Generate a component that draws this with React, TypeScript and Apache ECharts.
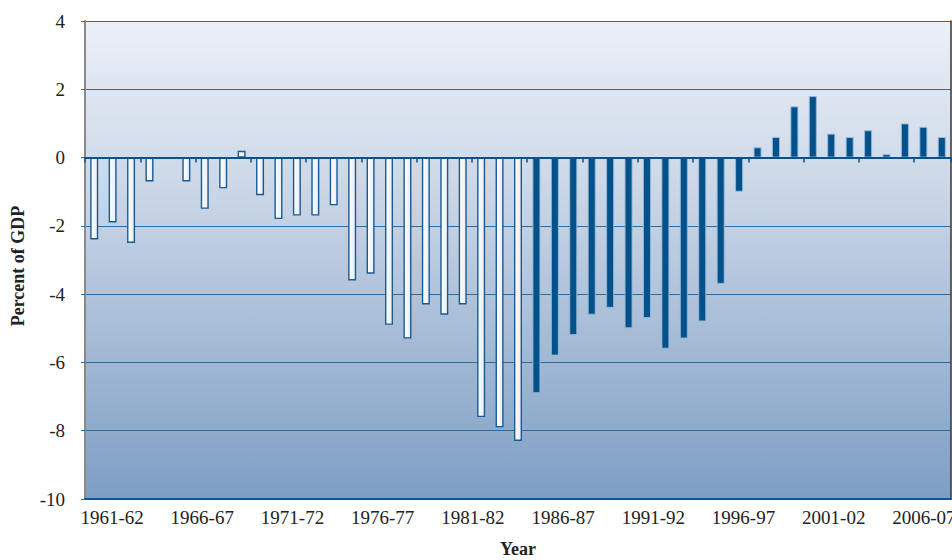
import React, { useEffect, useRef } from "react";
import * as echarts from "echarts";

// Fiscal years 1960-61 .. 2006-07 (one bar each)
const years: string[] = [
  "1960-61", "1961-62", "1962-63", "1963-64", "1964-65", "1965-66", "1966-67", "1967-68",
  "1968-69", "1969-70", "1970-71", "1971-72", "1972-73", "1973-74", "1974-75", "1975-76",
  "1976-77", "1977-78", "1978-79", "1979-80", "1980-81", "1981-82", "1982-83", "1983-84",
  "1984-85", "1985-86", "1986-87", "1987-88", "1988-89", "1989-90", "1990-91", "1991-92",
  "1992-93", "1993-94", "1994-95", "1995-96", "1996-97", "1997-98", "1998-99", "1999-00",
  "2000-01", "2001-02", "2002-03", "2003-04", "2004-05", "2005-06", "2006-07",
];

// Budget balance, percent of GDP
const balance: number[] = [
  -2.4, -1.9, -2.5, -0.7, 0, -0.7, -1.5, -0.9, 0.2, -1.1, -1.8, -1.7, -1.7, -1.4, -3.6, -3.4,
  -4.9, -5.3, -4.3, -4.6, -4.3, -7.6, -7.9, -8.3, -6.9, -5.8, -5.2, -4.6, -4.4, -5.0, -4.7, -5.6,
  -5.3, -4.8, -3.7, -1.0, 0.3, 0.6, 1.5, 1.8, 0.7, 0.6, 0.8, 0.1, 1.0, 0.9, 0.6,
];

// First year drawn with the dark fill
const darkFrom = "1984-85";

// Tick label axis (as printed in the reference)
const labelYears: string[] = [
  "1960-61", "1961-62", "1962-63", "1963-64", "1964-65", "1965-66", "1966-67", "1967-68",
  "1968-69", "1969-70", "1970-71", "1971-72", "1972-73", "1973-74", "1974-75", "1975-76",
  "1976-77", "1977-78", "1978-79", "1979-80", "1980-81", "1981-82", "1982-83", "1983-84",
  "1984-85", "1985-86", "1986-87", "1987-88", "1988-89", "1989-90", "1990-91", "1991-92",
  "1992-93", "1993-94", "1994-95", "1995-96", "1996-97", "1997-98", "1998-99", "1999-00",
  "2000-01", "2001-02", "2002-03", "2003-04", "2004-05", "2005-06", "2006-07", "2007-08",
];
const shownLabels: string[] = [
  "1961-62", "1966-67", "1971-72", "1976-77", "1981-82", "1986-87", "1991-92", "1996-97",
  "2001-02", "2006-07",
];

const FONT = "'Liberation Serif', 'DejaVu Serif', serif";
const LINE = "#2f6a9f";

export default function App() {
  const ref = useRef<HTMLDivElement>(null);
  useEffect(() => {
    if (!ref.current) return;
    const chart = echarts.init(ref.current, null, { renderer: "svg" });
    const darkIdx = years.indexOf(darkFrom);
    const data = balance.map((v, i) => ({
      value: v,
      itemStyle:
        i < darkIdx
          ? {
              color: {
                type: "linear", x: 0, y: 0, x2: 1, y2: 0,
                colorStops: [
                  { offset: 0, color: "#ffffff" },
                  { offset: 1, color: "#e6edf6" },
                ],
              },
              borderColor: "#1a5a93",
              borderWidth: v === 0 ? 0 : 1.4,
            }
          : { color: "#03518b", borderColor: "rgba(150,185,215,0.9)", borderWidth: 1 },
    }));
    chart.setOption({
      animation: false,
      textStyle: { fontFamily: FONT },
      grid: {
        left: 85,
        right: 1,
        top: 21,
        bottom: 61,
        outerBoundsMode: "none",
        containLabel: false,
        show: true,
        borderWidth: 0,
        backgroundColor: {
          type: "linear", x: 0, y: 0, x2: 0, y2: 1,
          colorStops: [
            { offset: 0, color: "#ecf0f8" },
            { offset: 0.35, color: "#cbd7e7" },
            { offset: 1, color: "#7d9ec4" },
          ],
        },
      },
      xAxis: [
        {
          type: "category",
          data: years,
          position: "bottom",
          axisLine: { onZero: true, lineStyle: { color: "#0f4f8a", width: 2 } },
          axisTick: { show: true, length: 5, lineStyle: { color: "#0f4f8a", width: 1.5 } },
          axisLabel: { show: false },
          splitLine: { show: false },
          z: 5,
        },
        {
          type: "category",
          data: labelYears,
          position: "bottom",
          axisLine: { onZero: false, lineStyle: { color: "#0d5596", width: 2 } },
          axisTick: { show: false },
          axisLabel: {
            interval: (_: number, v: string) => shownLabels.indexOf(v) >= 0,
            fontFamily: FONT,
            fontSize: 19,
            color: "#222",
            margin: 9,
          },
          name: "Year",
          nameLocation: "middle",
          nameGap: 41,
          nameTextStyle: { fontFamily: FONT, fontSize: 18, fontWeight: "bold", color: "#222" },
        },
      ],
      yAxis: [
        {
          type: "value",
          min: -10,
          max: 4,
          interval: 2,
          axisLine: { show: true, onZero: false, lineStyle: { color: "#8a8a8a", width: 2 } },
          axisTick: { show: true, length: 4, lineStyle: { color: LINE } },
          axisLabel: { fontFamily: FONT, fontSize: 19, color: "#222", margin: 20 },
          splitLine: { show: true, lineStyle: { color: LINE, width: 1.2 } },
          name: "Percent of GDP",
          nameLocation: "middle",
          nameGap: 58,
          nameTextStyle: { fontFamily: FONT, fontSize: 18, fontWeight: "bold", color: "#222", padding: [0, 12, 0, 0] },
        },
        {
          type: "value",
          min: -10,
          max: 4,
          interval: 2,
          position: "right",
          axisLine: { show: true, onZero: false, lineStyle: { color: "#333", width: 1.5 } },
          axisTick: { show: false },
          axisLabel: { show: false },
          splitLine: { show: false },
        },
      ],
      series: [
        {
          type: "bar",
          xAxisIndex: 0,
          yAxisIndex: 0,
          data,
          barWidth: 8,
          z: 3,
        },
      ],
    });
    return () => chart.dispose();
  }, []);
  return <div ref={ref} style={{ width: 952, height: 560, position: "absolute", left: 0, top: 0 }} />;
}
